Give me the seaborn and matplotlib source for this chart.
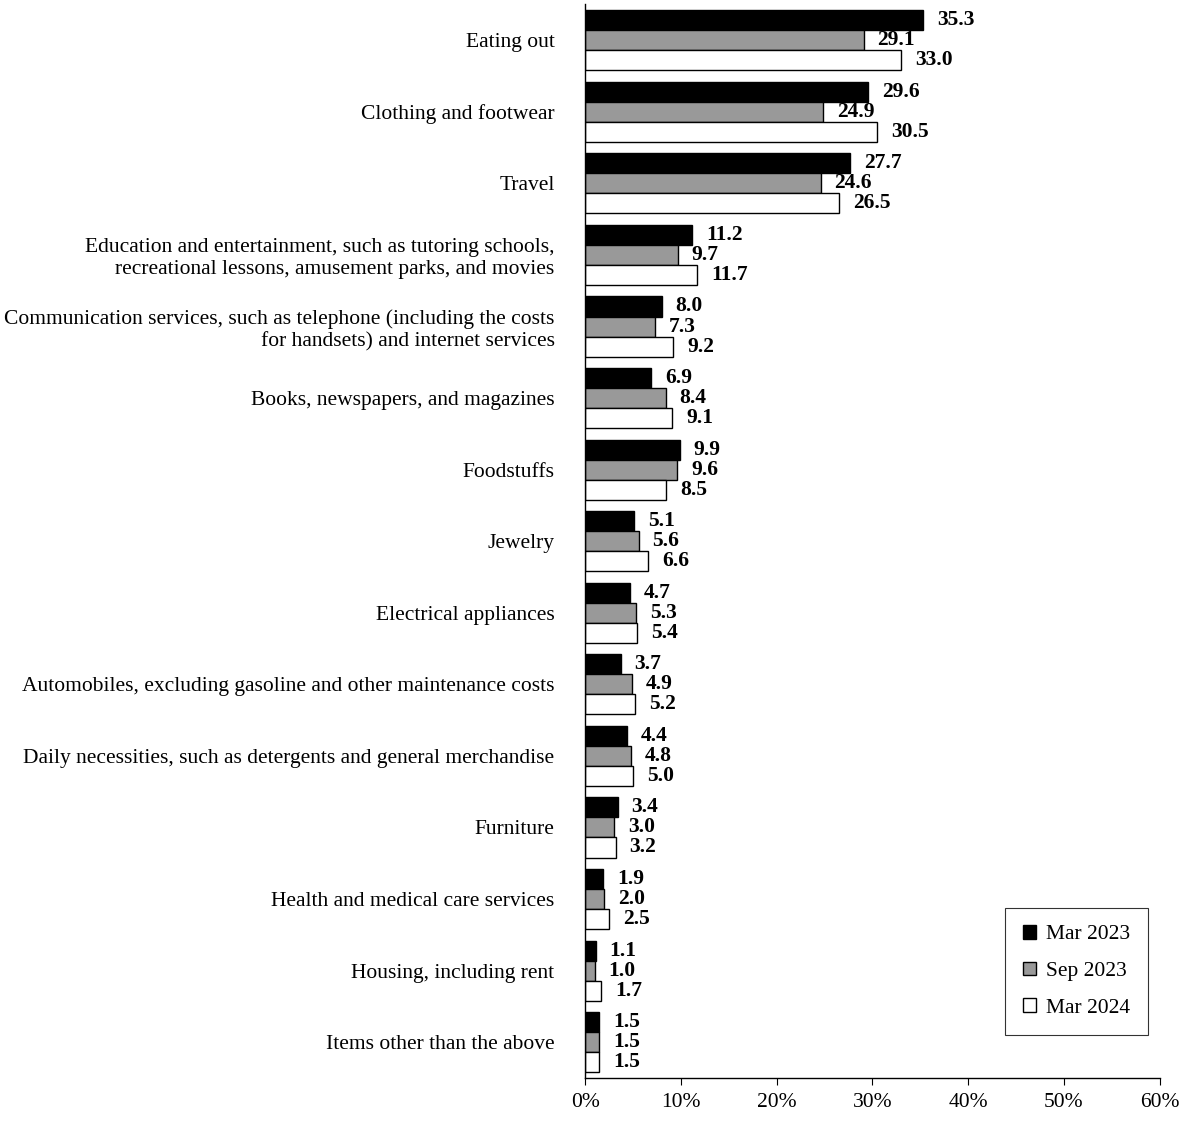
import matplotlib
matplotlib.use('Agg')
import matplotlib.pyplot as plt
import pandas as pd
import seaborn as sns

categories = [
    'Eating out',
    'Clothing and footwear',
    'Travel',
    'Education and entertainment, such as tutoring schools,\nrecreational lessons, amusement parks, and movies',
    'Communication services, such as telephone (including the costs\nfor handsets) and internet services',
    'Books, newspapers, and magazines',
    'Foodstuffs',
    'Jewelry',
    'Electrical appliances',
    'Automobiles, excluding gasoline and other maintenance costs',
    'Daily necessities, such as detergents and general merchandise',
    'Furniture',
    'Health and medical care services',
    'Housing, including rent',
    'Items other than the above',
]
periods = ['Mar 2023', 'Sep 2023', 'Mar 2024']
mar_2023 = [35.3, 29.6, 27.7, 11.2, 8.0, 6.9, 9.9, 5.1, 4.7, 3.7, 4.4, 3.4, 1.9, 1.1, 1.5]
sep_2023 = [29.1, 24.9, 24.6, 9.7, 7.3, 8.4, 9.6, 5.6, 5.3, 4.9, 4.8, 3.0, 2.0, 1.0, 1.5]
mar_2024 = [33.0, 30.5, 26.5, 11.7, 9.2, 9.1, 8.5, 6.6, 5.4, 5.2, 5.0, 3.2, 2.5, 1.7, 1.5]
colors = ['#000000', '#999999', '#ffffff']

rows = []
for vals, p in zip([mar_2023, sep_2023, mar_2024], periods):
    for c, v in zip(categories, vals):
        rows.append({'category': c, 'period': p, 'value': v})
df = pd.DataFrame(rows)

sns.set_style('white')
plt.rcParams['font.family'] = ['Liberation Serif', 'DejaVu Serif']
plt.rcParams['text.color'] = 'black'
plt.rcParams['xtick.color'] = 'black'
plt.rcParams['ytick.color'] = 'black'
fs = 15.5

fig = plt.figure(figsize=(11.82, 11.24), dpi=100)
ax = fig.add_axes([0.495, 0.041, 0.486, 0.955])
sns.barplot(data=df, y='category', x='value', hue='period', orient='h',
            palette=colors, edgecolor='black', linewidth=1, width=0.84,
            saturation=1, ax=ax)

for cont in ax.containers:
    ax.bar_label(cont, fmt='%.1f', padding=10, fontsize=fs, fontweight='bold')

ax.set_xlim(0, 60)
ax.set_xticks(range(0, 61, 10))
ax.set_xticklabels([f'{t}%' for t in range(0, 61, 10)], fontsize=fs)
ax.tick_params(axis='y', labelsize=fs, length=0, pad=22)
ax.tick_params(axis='x', bottom=True, length=5, direction='out', pad=6)
ax.set_xlabel('')
ax.set_ylabel('')
ax.set_ylim(14.5, -0.5)
sns.despine(ax=ax)
for s in ['left', 'bottom']:
    ax.spines[s].set_color('black')
    ax.spines[s].set_linewidth(1)

leg = ax.legend(loc='lower right', bbox_to_anchor=(0.998, 0.03), fontsize=fs,
                frameon=True, fancybox=False, edgecolor='black',
                labelspacing=0.8, handlelength=0.6, handleheight=0.6,
                borderpad=0.8, handletextpad=0.5)
leg.get_frame().set_linewidth(0.8)

plt.savefig('out.png', dpi=100)
